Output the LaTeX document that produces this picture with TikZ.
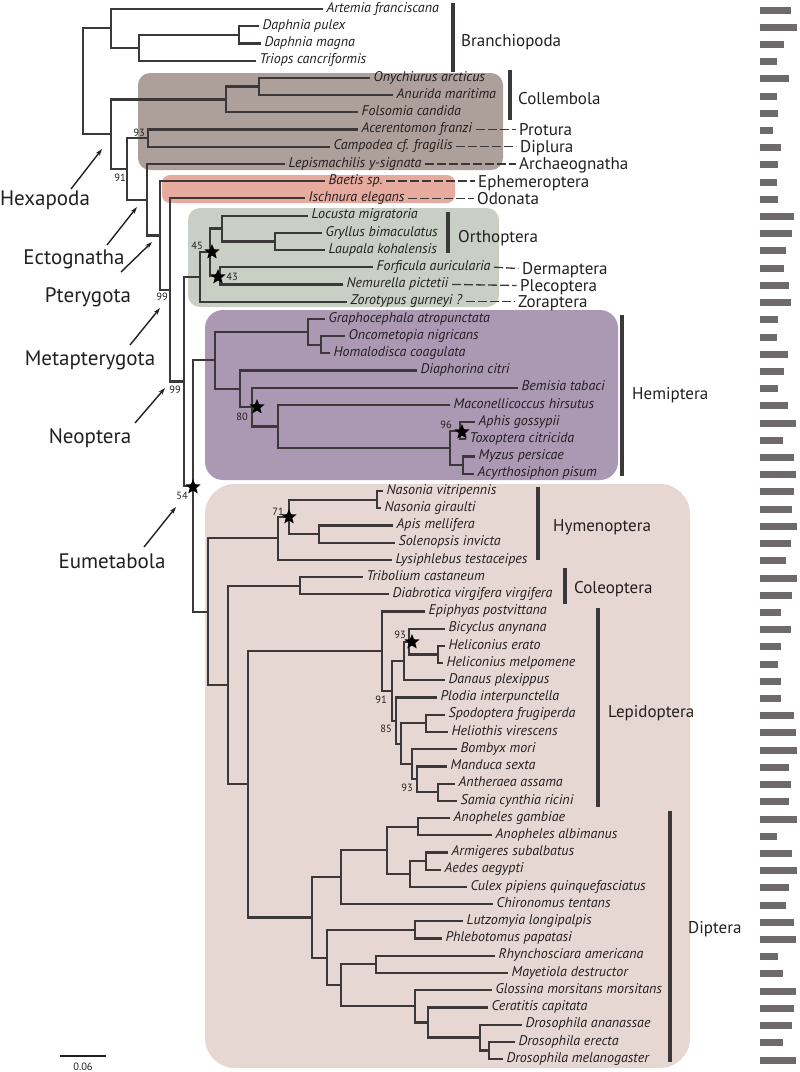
\documentclass[tikz,border=0pt]{standalone}
\usepackage{fontspec}
\setmainfont{PT Sans}
\usetikzlibrary{shapes.geometric}
\usetikzlibrary{arrows.meta}

\definecolor{branch}{HTML}{3C3839}
\definecolor{ink}{HTML}{231F20}
\definecolor{barcol}{HTML}{6E6A6B}
\definecolor{colbox}{HTML}{AD9F99}
\definecolor{ephbox}{HTML}{E6AA9E}
\definecolor{ortbox}{HTML}{C9CFC4}
\definecolor{hembox}{HTML}{AB99B4}
\definecolor{holbox}{HTML}{E6D7D2}

\tikzset{
  br/.style={draw=branch, line width=2.2pt},
  taxon/.style={anchor=west, inner xsep=3.5pt, inner ysep=0pt, text height=10pt, text depth=3.5pt,
    text=ink, font=\fontsize{14}{16}\selectfont\itshape},
  order/.style={anchor=west, inner xsep=3.5pt, inner ysep=0pt, text height=12pt, text depth=0pt,
    text=ink, font=\fontsize{17}{20}\selectfont},
  clade/.style={inner sep=0pt, text height=15pt, text depth=0pt, text=ink, font=\fontsize{21}{24}\selectfont},
  boot/.style={inner sep=0pt, text=ink, font=\fontsize{10.5}{12}\selectfont},
  dashlink/.style={draw=branch, line width=1.3pt, dash pattern=on 9pt off 3pt},
  bracket/.style={draw=branch, line width=3.2pt},
  support/.style={star, star points=5, star point ratio=2.3, fill=black, inner sep=0pt, minimum size=16pt},
  arr/.style={draw=ink, line width=1.4pt, -{Stealth[length=7pt,width=4.5pt]}},
}

\begin{document}
\begin{tikzpicture}[x=1pt,y=-1pt]
    \useasboundingbox (0,0) rectangle (800,1072);

    % shaded groups
    \fill[holbox, rounded corners=30pt] (205,484) rectangle (690,1068);
    \fill[hembox, rounded corners=18pt] (205,310) rectangle (618,480);
    \fill[ortbox, rounded corners=12pt] (188,208) rectangle (499,307);
    \fill[ephbox, rounded corners=8pt] (162,175) rectangle (455,203);
    \fill[colbox, rounded corners=12pt] (138,73) rectangle (503,170);

    % internal nodes
    \coordinate (root) at (83,81.25);
    \coordinate (b0) at (111,28.35);
    \coordinate (b1) at (139,47.7);
    \coordinate (b2) at (239,34.8);
    \coordinate (hx) at (111,134.15);
    \coordinate (co) at (226,99.4);
    \coordinate (c1) at (259,86.5);
    \coordinate (ec) at (127,168.9);
    \coordinate (p93) at (148,138.1);
    \coordinate (ls) at (147,199.7);
    \coordinate (pt) at (160,235.5);
    \coordinate (mp) at (170,289.85);
    \coordinate (ne) at (184,381.4);
    \coordinate (po) at (200,276.9);
    \coordinate (o45) at (210,252.15);
    \coordinate (or) at (222,228.5);
    \coordinate (gl) at (275,241.4);
    \coordinate (dp) at (220,275.8);
    \coordinate (n2) at (193,485.95);
    \coordinate (hm) at (215,360.3);
    \coordinate (au) at (308,331.7);
    \coordinate (oh) at (321,344.65);
    \coordinate (st) at (240,388.9);
    \coordinate (s2) at (252,407.05);
    \coordinate (s3) at (278,426.4);
    \coordinate (ap) at (450,447.9);
    \coordinate (h96) at (460,430.7);
    \coordinate (ma) at (463,465.1);
    \coordinate (eu) at (208,611.6);
    \coordinate (hy) at (278,538.3);
    \coordinate (h71) at (289,516.8);
    \coordinate (nas) at (377,499.6);
    \coordinate (as) at (319,534);
    \coordinate (rr) at (228,684.9);
    \coordinate (cl) at (300,585.6);
    \coordinate (r2) at (248,784.25);
    \coordinate (lp) at (382,651.1);
    \coordinate (l91) at (392,690.8);
    \coordinate (ny) at (404,660.95);
    \coordinate (n93) at (409,641.6);
    \coordinate (hc) at (438,654.5);
    \coordinate (l85) at (396,720.65);
    \coordinate (l3) at (401,743.8);
    \coordinate (sh) at (426,723.3);
    \coordinate (l4) at (412,764.25);
    \coordinate (l93) at (417,779.3);
    \coordinate (sa) at (438,792.2);
    \coordinate (dt) at (312,917.4);
    \coordinate (d1) at (341,877.2);
    \coordinate (cu) at (387,850.3);
    \coordinate (an) at (418,826.6);
    \coordinate (ca) at (410,873.95);
    \coordinate (ae) at (426,861);
    \coordinate (d2) at (327,957.6);
    \coordinate (ps) at (415,929.9);
    \coordinate (d3) at (341,985.3);
    \coordinate (rm) at (376,964.3);
    \coordinate (bc) at (415,1006.3);
    \coordinate (ce) at (428,1022.45);
    \coordinate (dr) at (480,1037.5);
    \coordinate (dr2) at (489,1050.4);

    % taxa
    \node[taxon] (art) at (323,9) {Artemia franciscana};
    \node[taxon] (dpu) at (259,26.2) {Daphnia pulex};
    \node[taxon] (dma) at (261,43.4) {Daphnia magna};
    \node[taxon] (tri) at (256,60.6) {Triops cancriformis};
    \node[taxon] (ony) at (370,77.9) {Onychiurus arcticus};
    \node[taxon] (anu) at (393,95.1) {Anurida maritima};
    \node[taxon] (fol) at (358,112.3) {Folsomia candida};
    \node[taxon] (ace) at (358,129.5) {Acerentomon franzi};
    \node[taxon] (cam) at (330,146.7) {Campodea cf. fragilis};
    \node[taxon] (lep) at (285,163.9) {Lepismachilis y-signata};
    \node[taxon] (bae) at (325,181.1) {Baetis sp.};
    \node[taxon] (isc) at (305,198.3) {Ischnura elegans};
    \node[taxon] (loc) at (308,215.6) {Locusta migratoria};
    \node[taxon] (gry) at (322,232.8) {Gryllus bimaculatus};
    \node[taxon] (lau) at (325,250.0) {Laupala kohalensis};
    \node[taxon] (for) at (373,267.2) {Forficula auricularia};
    \node[taxon] (nem) at (343,284.4) {Nemurella pictetii};
    \node[taxon] (zor) at (347,301.6) {Zorotypus gurneyi ?};
    \node[taxon] (gra) at (325,318.8) {Graphocephala atropunctata};
    \node[taxon] (onc) at (345,336.0) {Oncometopia nigricans};
    \node[taxon] (hom) at (330,353.3) {Homalodisca coagulata};
    \node[taxon] (dia) at (417,370.5) {Diaphorina citri};
    \node[taxon] (bem) at (518,387.7) {Bemisia tabaci};
    \node[taxon] (mac) at (450,404.9) {Maconellicoccus hirsutus};
    \node[taxon] (aph) at (475,422.1) {Aphis gossypii};
    \node[taxon] (tox) at (466,439.3) {Toxoptera citricida};
    \node[taxon] (myz) at (475,456.5) {Myzus persicae};
    \node[taxon] (acy) at (474,473.7) {Acyrthosiphon pisum};
    \node[taxon] (nvi) at (383,491.0) {Nasonia vitripennis};
    \node[taxon] (ngi) at (381,508.2) {Nasonia giraulti};
    \node[taxon] (ame) at (393,525.4) {Apis mellifera};
    \node[taxon] (sin) at (395,542.6) {Solenopsis invicta};
    \node[taxon] (lys) at (392,559.8) {Lysiphlebus testaceipes};
    \node[taxon] (tca) at (363,577.0) {Tribolium castaneum};
    \node[taxon] (dvv) at (389,594.2) {Diabrotica virgifera virgifera};
    \node[taxon] (epi) at (425,611.4) {Epiphyas postvittana};
    \node[taxon] (bic) at (445,628.7) {Bicyclus anynana};
    \node[taxon] (her) at (445,645.9) {Heliconius erato};
    \node[taxon] (hme) at (443,663.1) {Heliconius melpomene};
    \node[taxon] (dpl) at (445,680.3) {Danaus plexippus};
    \node[taxon] (pin) at (437,697.5) {Plodia interpunctella};
    \node[taxon] (spo) at (445,714.7) {Spodoptera frugiperda};
    \node[taxon] (hvi) at (448,731.9) {Heliothis virescens};
    \node[taxon] (bmo) at (457,749.2) {Bombyx mori};
    \node[taxon] (mse) at (447,766.4) {Manduca sexta};
    \node[taxon] (aas) at (455,783.6) {Antheraea assama};
    \node[taxon] (scr) at (457,800.8) {Samia cynthia ricini};
    \node[taxon] (aga) at (450,818.0) {Anopheles gambiae};
    \node[taxon] (aal) at (492,835.2) {Anopheles albimanus};
    \node[taxon] (asu) at (448,852.4) {Armigeres subalbatus};
    \node[taxon] (aae) at (441,869.6) {Aedes aegypti};
    \node[taxon] (cpq) at (467,886.9) {Culex pipiens quinquefasciatus};
    \node[taxon] (cte) at (493,904.1) {Chironomus tentans};
    \node[taxon] (llo) at (463,921.3) {Lutzomyia longipalpis};
    \node[taxon] (ppa) at (442,938.5) {Phlebotomus papatasi};
    \node[taxon] (ram) at (495,955.7) {Rhynchosciara americana};
    \node[taxon] (mde) at (508,972.9) {Mayetiola destructor};
    \node[taxon] (gmm) at (492,990.1) {Glossina morsitans morsitans};
    \node[taxon] (cca) at (488,1007.4) {Ceratitis capitata};
    \node[taxon] (dan) at (522,1024.6) {Drosophila ananassae};
    \node[taxon] (der) at (515,1041.8) {Drosophila erecta};
    \node[taxon] (dme) at (503,1059.0) {Drosophila melanogaster};

    % branches
    \draw[br] (root) |- (b0);
    \draw[br] (root) |- (hx);
    \draw[br] (b0) |- (art.west);
    \draw[br] (b0) |- (b1);
    \draw[br] (b1) |- (b2);
    \draw[br] (b1) |- (tri.west);
    \draw[br] (b2) |- (dpu.west);
    \draw[br] (b2) |- (dma.west);
    \draw[br] (hx) |- (co);
    \draw[br] (hx) |- (ec);
    \draw[br] (co) |- (c1);
    \draw[br] (co) |- (fol.west);
    \draw[br] (c1) |- (ony.west);
    \draw[br] (c1) |- (anu.west);
    \draw[br] (ec) |- (p93);
    \draw[br] (ec) |- (ls);
    \draw[br] (p93) |- (ace.west);
    \draw[br] (p93) |- (cam.west);
    \draw[br] (ls) |- (lep.west);
    \draw[br] (ls) |- (pt);
    \draw[br] (pt) |- (bae.west);
    \draw[br] (pt) |- (mp);
    \draw[br] (mp) |- (isc.west);
    \draw[br] (mp) |- (ne);
    \draw[br] (ne) |- (po);
    \draw[br] (ne) |- (n2);
    \draw[br] (po) |- (o45);
    \draw[br] (po) |- (zor.west);
    \draw[br] (o45) |- (or);
    \draw[br] (o45) |- (dp);
    \draw[br] (or) |- (loc.west);
    \draw[br] (or) |- (gl);
    \draw[br] (gl) |- (gry.west);
    \draw[br] (gl) |- (lau.west);
    \draw[br] (dp) |- (for.west);
    \draw[br] (dp) |- (nem.west);
    \draw[br] (n2) |- (hm);
    \draw[br] (n2) |- (eu);
    \draw[br] (hm) |- (au);
    \draw[br] (hm) |- (st);
    \draw[br] (au) |- (gra.west);
    \draw[br] (au) |- (oh);
    \draw[br] (oh) |- (onc.west);
    \draw[br] (oh) |- (hom.west);
    \draw[br] (st) |- (dia.west);
    \draw[br] (st) |- (s2);
    \draw[br] (s2) |- (bem.west);
    \draw[br] (s2) |- (s3);
    \draw[br] (s3) |- (mac.west);
    \draw[br] (s3) |- (ap);
    \draw[br] (ap) |- (h96);
    \draw[br] (ap) |- (ma);
    \draw[br] (h96) |- (aph.west);
    \draw[br] (h96) |- (tox.west);
    \draw[br] (ma) |- (myz.west);
    \draw[br] (ma) |- (acy.west);
    \draw[br] (eu) |- (hy);
    \draw[br] (eu) |- (rr);
    \draw[br] (hy) |- (h71);
    \draw[br] (hy) |- (lys.west);
    \draw[br] (h71) |- (nas);
    \draw[br] (h71) |- (as);
    \draw[br] (nas) |- (nvi.west);
    \draw[br] (nas) |- (ngi.west);
    \draw[br] (as) |- (ame.west);
    \draw[br] (as) |- (sin.west);
    \draw[br] (rr) |- (cl);
    \draw[br] (rr) |- (r2);
    \draw[br] (cl) |- (tca.west);
    \draw[br] (cl) |- (dvv.west);
    \draw[br] (r2) |- (lp);
    \draw[br] (r2) |- (dt);
    \draw[br] (lp) |- (epi.west);
    \draw[br] (lp) |- (l91);
    \draw[br] (l91) |- (ny);
    \draw[br] (l91) |- (l85);
    \draw[br] (ny) |- (n93);
    \draw[br] (ny) |- (dpl.west);
    \draw[br] (n93) |- (bic.west);
    \draw[br] (n93) |- (hc);
    \draw[br] (hc) |- (her.west);
    \draw[br] (hc) |- (hme.west);
    \draw[br] (l85) |- (pin.west);
    \draw[br] (l85) |- (l3);
    \draw[br] (l3) |- (sh);
    \draw[br] (l3) |- (l4);
    \draw[br] (sh) |- (spo.west);
    \draw[br] (sh) |- (hvi.west);
    \draw[br] (l4) |- (bmo.west);
    \draw[br] (l4) |- (l93);
    \draw[br] (l93) |- (mse.west);
    \draw[br] (l93) |- (sa);
    \draw[br] (sa) |- (aas.west);
    \draw[br] (sa) |- (scr.west);
    \draw[br] (dt) |- (d1);
    \draw[br] (dt) |- (d2);
    \draw[br] (d1) |- (cu);
    \draw[br] (d1) |- (cte.west);
    \draw[br] (cu) |- (an);
    \draw[br] (cu) |- (ca);
    \draw[br] (an) |- (aga.west);
    \draw[br] (an) |- (aal.west);
    \draw[br] (ca) |- (ae);
    \draw[br] (ca) |- (cpq.west);
    \draw[br] (ae) |- (asu.west);
    \draw[br] (ae) |- (aae.west);
    \draw[br] (d2) |- (ps);
    \draw[br] (d2) |- (d3);
    \draw[br] (ps) |- (llo.west);
    \draw[br] (ps) |- (ppa.west);
    \draw[br] (d3) |- (rm);
    \draw[br] (d3) |- (bc);
    \draw[br] (rm) |- (ram.west);
    \draw[br] (rm) |- (mde.west);
    \draw[br] (bc) |- (gmm.west);
    \draw[br] (bc) |- (ce);
    \draw[br] (ce) |- (cca.west);
    \draw[br] (ce) |- (dr);
    \draw[br] (dr) |- (dan.west);
    \draw[br] (dr) |- (dr2);
    \draw[br] (dr2) |- (der.west);
    \draw[br] (dr2) |- (dme.west);

    % orders joined by dashes
    \node[order] (lpro) at (515.5,129.5) {Protura};
    \node[order] (ldip) at (516.5,146.7) {Diplura};
    \node[order] (larc) at (515.5,163.9) {Archaeognatha};
    \node[order] (leph) at (474.5,181.1) {Ephemeroptera};
    \node[order] (lodo) at (473.5,198.3) {Odonata};
    \node[order] (lder) at (518.5,268.5) {Dermaptera};
    \node[order] (lple) at (516.5,285.5) {Plecoptera};
    \node[order] (lzor) at (514.5,301.6) {Zoraptera};
    \draw[dashlink] (ace.east) -- (lpro.west);
    \draw[dashlink] (cam.east) -- (ldip.west);
    \draw[dashlink] (lep.east) -- (larc.west);
    \draw[dashlink] (bae.east) -- (leph.west);
    \draw[dashlink] (isc.east) -- (lodo.west);
    \draw[dashlink] (for.east) -- (lder.west);
    \draw[dashlink] (nem.east) -- (lple.west);
    \draw[dashlink] (zor.east) -- (lzor.west);

    % orders with brackets
    \node[order] (gbra) at (457.5,40) {Branchiopoda};
    \node[order] (gcol) at (514.5,98) {Collembola};
    \node[order] (gort) at (454.5,236) {Orthoptera};
    \node[order] (ghem) at (628.5,393) {Hemiptera};
    \node[order] (ghym) at (549.5,525) {Hymenoptera};
    \node[order] (gcoe) at (570.5,587) {Coleoptera};
    \node[order] (glep) at (604.5,711) {Lepidoptera};
    \node[order] (gdip) at (684.5,927) {Diptera};
    \draw[bracket] (453,3) -- (453,72);
    \draw[bracket] (510,70) -- (510,120);
    \draw[bracket] (448,212) -- (448,253);
    \draw[bracket] (622,315) -- (622,476);
    \draw[bracket] (538,487) -- (538,560);
    \draw[bracket] (565,568) -- (565,604);
    \draw[bracket] (598,608) -- (598,807);
    \draw[bracket] (670,811) -- (670,1062);

    % bootstrap values
    \node[boot] (v93a) at (139,133) {93};
    \node[boot] (v91a) at (120,178) {91};
    \node[boot] (v99a) at (162,297) {99};
    \node[boot] (v99b) at (175,390) {99};
    \node[boot] (v45) at (197,246) {45};
    \node[boot] (v43) at (232,277) {43};
    \node[boot] (v80) at (242,417) {80};
    \node[boot] (v96) at (446,425) {96};
    \node[boot] (v54) at (182,496) {54};
    \node[boot] (v71) at (278,512) {71};
    \node[boot] (v93b) at (400,635) {93};
    \node[boot] (v91b) at (381,700) {91};
    \node[boot] (v85) at (386,729) {85};
    \node[boot] (v93c) at (407,788) {93};

    % stars
    \node[support] (k45) at (212,252) {};
    \node[support] (k43) at (218,277) {};
    \node[support] (k80) at (257,407) {};
    \node[support] (k96) at (462,432) {};
    \node[support] (k54) at (193,487) {};
    \node[support] (k71) at (289,517) {};
    \node[support] (k93) at (412,642) {};

    % clades
    \node[clade] (khex) at (45,198) {Hexapoda};
    \node[clade] (kect) at (74,257) {Ectognatha};
    \node[clade] (kpte) at (88,295) {Pterygota};
    \node[clade] (kmet) at (90,358) {Metapterygota};
    \node[clade] (kneo) at (90,436) {Neoptera};
    \node[clade] (keum) at (112,561) {Eumetabola};
    \coordinate (hexT) at (71,189);   \coordinate (hexH) at (102,149);
    \coordinate (ectT) at (107,245);  \coordinate (ectH) at (137,207);
    \coordinate (pteT) at (121,272);  \coordinate (pteH) at (152,242);
    \coordinate (metT) at (130,345);  \coordinate (metH) at (160,308);
    \coordinate (neoT) at (135,423);  \coordinate (neoH) at (165,388);
    \coordinate (eumT) at (144,547);  \coordinate (eumH) at (176,507);
    \draw[arr] (hexT) -- (hexH);
    \draw[arr] (ectT) -- (ectH);
    \draw[arr] (pteT) -- (pteH);
    \draw[arr] (metT) -- (metH);
    \draw[arr] (neoT) -- (neoH);
    \draw[arr] (eumT) -- (eumH);

    % scale
    \coordinate (sc0) at (60,1056);
    \coordinate (sc1) at (106,1056);
    \draw[draw=ink, line width=1.2pt] (sc0) -- (sc1);
    \node[boot] (scl) at (83,1067) {0.06};

    % bars
    \foreach \r/\w in {1/31,2/37,3/24,4/16.5,5/29,6/16.5,7/18,8/13,9/21,10/18,
        11/16.5,12/18,13/34,14/32,15/26,16/24,17/29,18/31,19/18,20/16.5,
        21/28,22/24,23/18,24/28,25/36,26/23,27/34,28/36,29/34,30/32,
        31/37,32/31,33/26,34/37,35/32,36/21,37/31,38/21,39/18,40/21,
        41/21,42/34,43/36,44/37,45/29,46/31,47/29,48/37,49/16.5,50/32,
        51/37,52/29,53/26,54/34,55/36,56/18,57/23,58/36,59/34,60/32,
        61/23,62/36}
      \fill[barcol] (760,{9+(\r-1)*17.213-2.5}) rectangle ++(\w,7);
\end{tikzpicture}
\end{document}
